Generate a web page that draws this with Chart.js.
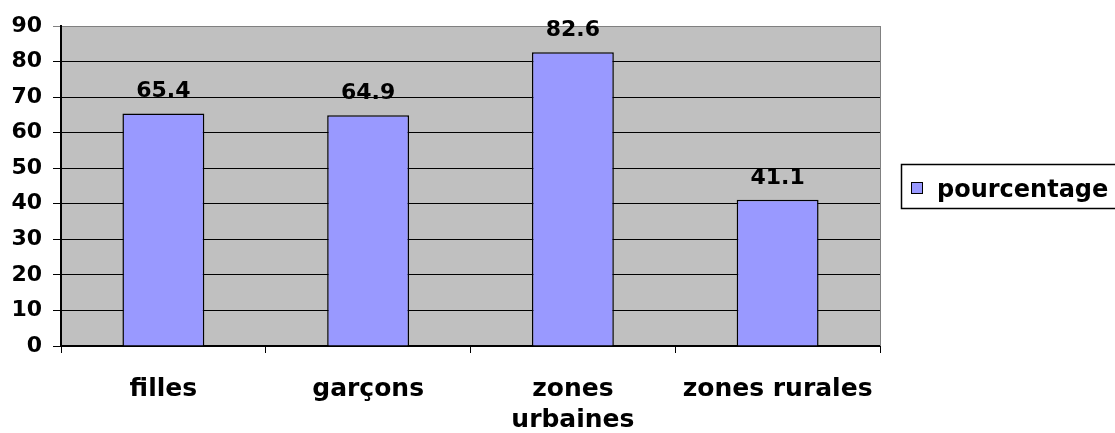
<!DOCTYPE html>
<html>
<head>
<meta charset="utf-8">
<script src="https://cdn.jsdelivr.net/npm/chart.js@4.4.1/dist/chart.umd.min.js"></script>
<style>
    html, body { margin: 0; padding: 0; background: #ffffff; }
    #wrap { position: relative; width: 1115px; height: 433px; }
</style>
</head>
<body>
<div id="wrap"><canvas id="barChart"></canvas></div>
<script>
const categories = ["filles", "garçons", ["zones", "urbaines"], "zones rurales"];
const seriesLabel = "pourcentage";
const seriesValues = [65.4, 64.9, 82.6, 41.1];
const yTicks = [0, 10, 20, 30, 40, 50, 60, 70, 80, 90];

const barColor = "#9999FF";
const plotColor = "#C0C0C0";
const fontFamily = "'DejaVu Sans', sans-serif";

// grey plot area with the grey frame on the right
const plotBackground = {
    id: "plotBackground",
    beforeDraw(chart) {
        const { ctx, chartArea } = chart;
        ctx.save();
        ctx.fillStyle = plotColor;
        ctx.fillRect(chartArea.left, chartArea.top, chartArea.right - chartArea.left, chartArea.bottom - chartArea.top);
        ctx.restore();
    },
    beforeDatasetsDraw(chart) {
        const { ctx, chartArea } = chart;
        ctx.save();
        ctx.strokeStyle = "#808080";
        ctx.lineWidth = 1;
        ctx.beginPath();
        ctx.moveTo(chartArea.right + 0.5, chartArea.top);
        ctx.lineTo(chartArea.right + 0.5, chartArea.bottom);
        ctx.stroke();
        ctx.restore();
    },
};

// value labels over each bar
const valueLabels = {
    id: "valueLabels",
    afterDatasetsDraw(chart) {
        const { ctx } = chart;
        const meta = chart.getDatasetMeta(0);
        ctx.save();
        ctx.font = "bold 22px " + fontFamily;
        ctx.fillStyle = "#000";
        ctx.textAlign = "center";
        ctx.textBaseline = "alphabetic";
        meta.data.forEach((bar, i) => {
            ctx.fillText(seriesValues[i].toFixed(1), bar.x, bar.y - 16);
        });
        ctx.restore();
    },
};

// boxed legend on the right, cut by the edge like the original
const boxLegend = {
    id: "boxLegend",
    afterDraw(chart) {
        const { ctx } = chart;
        const ds = chart.data.datasets[0];
        ctx.save();
        ctx.fillStyle = "#fff";
        ctx.fillRect(901, 164, 240, 44);
        ctx.strokeStyle = "#000";
        ctx.lineWidth = 1.5;
        ctx.strokeRect(901.5, 164.5, 240, 44);
        ctx.fillStyle = ds.backgroundColor;
        ctx.fillRect(911, 182, 12, 12);
        ctx.lineWidth = 1;
        ctx.strokeRect(911.5, 182.5, 11, 11);
        ctx.fillStyle = "#000";
        ctx.font = "bold 24px " + fontFamily;
        ctx.textAlign = "left";
        ctx.textBaseline = "alphabetic";
        ctx.fillText(ds.label, 937, 197);
        ctx.restore();
    },
};

let barChart;

function initChart() {
    const ctx = document.getElementById("barChart").getContext("2d");
    if (barChart) barChart.destroy();
    barChart = new Chart(ctx, {
        type: "bar",
        data: {
            labels: categories,
            datasets: [
                {
                    label: seriesLabel,
                    data: seriesValues,
                    backgroundColor: barColor,
                    borderColor: "#000",
                    borderWidth: 1.5,
                    categoryPercentage: 1,
                    barPercentage: 0.4,
                },
            ],
        },
        options: {
            responsive: true,
            maintainAspectRatio: false,
            animation: false,
            layout: { padding: { top: 26, right: 235, left: 0, bottom: 0 } },
            plugins: {
                legend: { display: false },
                tooltip: { enabled: false },
            },
            scales: {
                x: {
                    offset: true,
                    afterFit: (scale) => { scale.height = 87; },
                    grid: {
                        offset: true,
                        drawOnChartArea: false,
                        color: "#000",
                        tickLength: 7,
                    },
                    border: { color: "#000", width: 2 },
                    ticks: {
                        color: "#000",
                        padding: 21,
                        maxRotation: 0,
                        autoSkip: false,
                        font: { family: fontFamily, size: 25, weight: "bold", lineHeight: 1.24 },
                    },
                },
                y: {
                    min: 0,
                    max: 90,
                    afterFit: (scale) => { scale.width = 61; },
                    afterBuildTicks: (scale) => {
                        scale.ticks = yTicks.map((v) => ({ value: v }));
                    },
                    grid: {
                        color: (c) => (c.tick && c.tick.value === 90 ? "#808080" : "#000"),
                        lineWidth: 1,
                        tickLength: 8,
                    },
                    border: { color: "#000", width: 2 },
                    ticks: {
                        color: "#000",
                        padding: 11,
                        font: { family: fontFamily, size: 22, weight: "bold" },
                    },
                },
            },
        },
        plugins: [plotBackground, valueLabels, boxLegend],
    });
}

document.addEventListener("DOMContentLoaded", initChart);
</script>
</body>
</html>
